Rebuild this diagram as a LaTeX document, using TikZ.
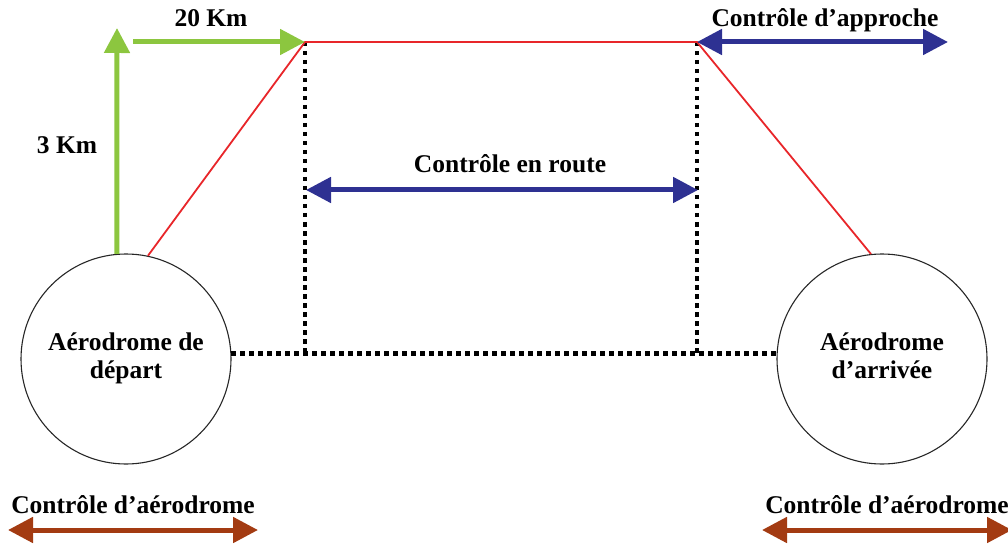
\documentclass[tikz,border=0pt]{standalone}
\usepackage{fontspec}
\setmainfont{Liberation Serif}
\usetikzlibrary{arrows.meta}
\definecolor{cgreen}{HTML}{8CC63F}
\definecolor{cblue}{HTML}{2E3192}
\definecolor{cbrown}{HTML}{A33B12}
\definecolor{cred}{HTML}{E8262A}
\begin{document}
\begin{tikzpicture}[x=1pt,y=-1pt,
  lbl/.style={font=\fontsize{25.5}{29}\selectfont\bfseries, inner sep=0pt, anchor=base},
  airport/.style={circle, draw=black!85, line width=1.1pt, minimum size=210pt, inner sep=0pt,
    align=center, font=\fontsize{25.5}{29}\selectfont\bfseries},
  greenarr/.style={draw=cgreen, line width=5pt, -{Triangle[length=25pt,width=25pt]}},
  bluearr/.style={draw=cblue, line width=5pt, {Triangle[length=25pt,width=25pt]}-{Triangle[length=25pt,width=25pt]}},
  brownarr/.style={draw=cbrown, line width=5pt, {Triangle[length=25pt,width=25pt]}-{Triangle[length=25pt,width=25pt]}},
  redline/.style={draw=cred, line width=1.8pt},
  dots/.style={draw=black, line width=4.5pt, dash pattern=on 4.5pt off 4.5pt}]
\useasboundingbox (0,0) rectangle (1008,545);
% airports
\node[airport] (dep) at (126,359) {\raisebox{5pt}{\begin{tabular}{@{}c@{}}A\'erodrome de\\[-1pt]d\'epart\end{tabular}}};
\node[airport] (arr) at (882,359) {\raisebox{5pt}{\begin{tabular}{@{}c@{}}A\'erodrome\\[-1pt]d’arriv\'ee\end{tabular}}};
% corners
\coordinate (tl) at (305,42);
\coordinate (tr) at (697,42);
\coordinate (bl) at (305,353);
\coordinate (br) at (697,353);
% dotted frame
\draw[dots] (tl) -- (bl);
\draw[dots] (tr) -- (br);
\draw[dots] (dep.3) -- (arr.177);
% red path
\draw[redline] (dep.78) -- (tl) -- (tr) -- (arr.96);
% green arrows
\coordinate (gtop) at (117,28);
\coordinate (gstart) at (133,42);
\draw[greenarr] (dep.95) -- (gtop);
\draw[greenarr] (gstart) -- (tl);
\node[lbl] (km20) at (211,27) {20 Km};
\node[lbl] (km3) at (67,154) {3 Km};
% en route
\coordinate (r1) at (306,190);
\coordinate (r2) at (698,190);
\draw[bluearr] (r1) -- (r2);
\node[lbl] (route) at (510,173) {Contrôle en route};
% approach
\coordinate (a2) at (948,42);
\draw[bluearr] (tr) -- (a2);
\node[lbl] (appr) at (825,27) {Contrôle d’approche};
% aerodrome controls
\coordinate (b1) at (8,530);
\coordinate (b2) at (258,530);
\draw[brownarr] (b1) -- (b2);
\node[lbl] (adl) at (133,513) {Contrôle d’aérodrome};
\coordinate (b3) at (762,530);
\coordinate (b4) at (1012,530);
\draw[brownarr] (b3) -- (b4);
\node[lbl] (adr) at (887,513) {Contrôle d’aérodrome};
\end{tikzpicture}
\end{document}
